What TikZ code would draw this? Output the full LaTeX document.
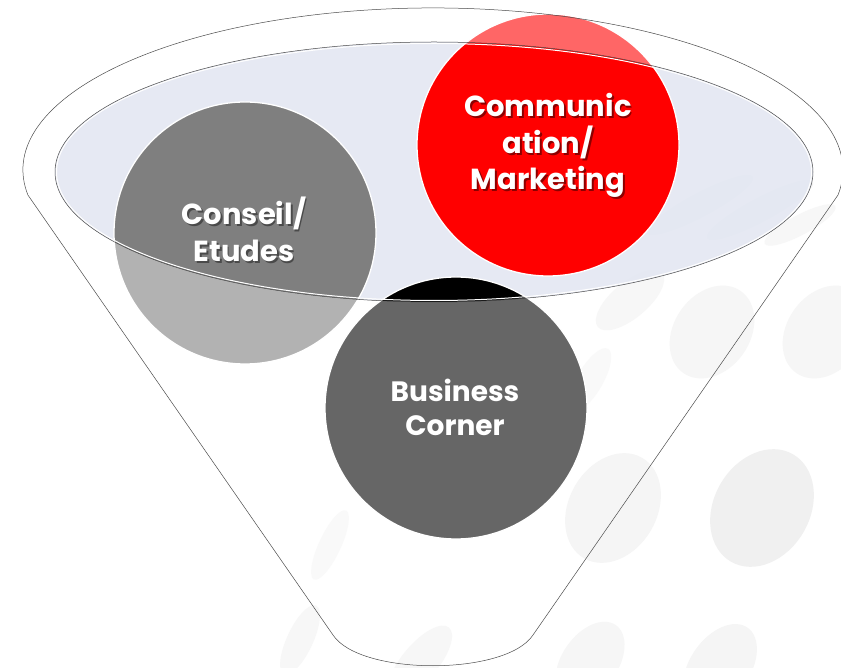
\documentclass[tikz,border=0pt]{standalone}
\usepackage{fontspec}
\setmainfont{Poppins}
\newcommand\shadowed[2]{\rlap{\kern1.8pt\raisebox{-1.6pt}{\textcolor{#1}{#2}}}#2}
\begin{document}
\begin{tikzpicture}[x=1pt,y=1pt,
  outl/.style={draw=black!70, line width=0.5pt},
  ring/.style={draw=white, line width=1.3pt},
  txt/.style={text=white, font=\fontsize{29}{34}\selectfont\bfseries, anchor=base, inner sep=0pt},
  btxt/.style={txt, font=\fontsize{28}{34}\selectfont\bfseries}]
\definecolor{blueell}{HTML}{E3E7F2}
\definecolor{conlight}{HTML}{B2B2B2}
\definecolor{condark}{HTML}{7F7F7F}
\definecolor{redlight}{HTML}{FF6666}
\definecolor{reddark}{HTML}{FF0000}
\definecolor{buslight}{HTML}{666666}
\definecolor{busdark}{HTML}{000000}
\definecolor{conshadow}{HTML}{4A4A4A}
\definecolor{redshadow}{HTML}{8C0000}
\useasboundingbox (0,0) rectangle (841,667);
\fill[white] (0,0) rectangle (841,667);
% background pattern
\begin{scope}
\clip (0,0) rectangle (841,667);
\foreach \x/\y/\a/\b/\r/\c in {
  762/159/62/48/60/6, 613/159/58/44/60/4, 712/335/50/38/55/3.5, 825/335/50/38/55/3.5,
  590/5/45/28/55/3.5, 720/0/48/30/55/4, 300/27/38/13/65/3, 420/5/45/18/50/3,
  330/122/38/11/65/2.5, 700/462/60/12/28/5, 760/457/60/12/28/5, 800/442/40/10/28/3,
  630/367/42/18/40/3, 590/287/36/13/60/2.5}
  \fill[black!\c] (\x,\y) ellipse[x radius=\a pt, y radius=\b pt, rotate=\r];
\end{scope}
% inner ellipse
\coordinate (ec) at (434,495);
\fill[blueell, fill opacity=0.88] (ec) ellipse[x radius=379pt, y radius=130pt];
% circles
\coordinate (con) at (245,434);
\coordinate (red) at (548,522);
\coordinate (bus) at (456,259);
\fill[conlight] (con) circle[radius=131pt];
\fill[redlight] (red) circle[radius=131pt];
\fill[buslight] (bus) circle[radius=131pt];
\begin{scope}
\clip (ec) ellipse[x radius=379pt, y radius=130pt];
\fill[condark] (con) circle[radius=131pt];
\fill[reddark] (red) circle[radius=131pt];
\fill[busdark] (bus) circle[radius=131pt];
\end{scope}
\draw[ring] (con) circle[radius=131pt];
\draw[ring] (red) circle[radius=131pt];
\draw[ring] (bus) circle[radius=131pt];
% outlines
\draw[white, line width=1pt] (ec) ellipse[x radius=377.5pt, y radius=128.5pt];
\draw[outl] (ec) ellipse[x radius=379pt, y radius=130pt];
\draw[outl] (27.9,472) arc[start angle=188.9, end angle=-8.9, x radius=410pt, y radius=162pt]
   -- (533,32) .. controls (506,-9) and (360,-9) .. (333,32) -- cycle;
% texts
\node[txt] (c1) at (244,442) {\shadowed{conshadow}{Conseil/}};
\node[txt] (c2) at (244,405) {\shadowed{conshadow}{Etudes}};
\node[txt] (r1) at (548,550) {\shadowed{redshadow}{Communic}};
\node[txt] (r2) at (548,513) {\shadowed{redshadow}{ation/}};
\node[txt] (r3) at (548,477) {\shadowed{redshadow}{Marketing}};
\node[btxt] (b1) at (455,265) {Business};
\node[btxt] (b2) at (455,231) {Corner};
\end{tikzpicture}
\end{document}
